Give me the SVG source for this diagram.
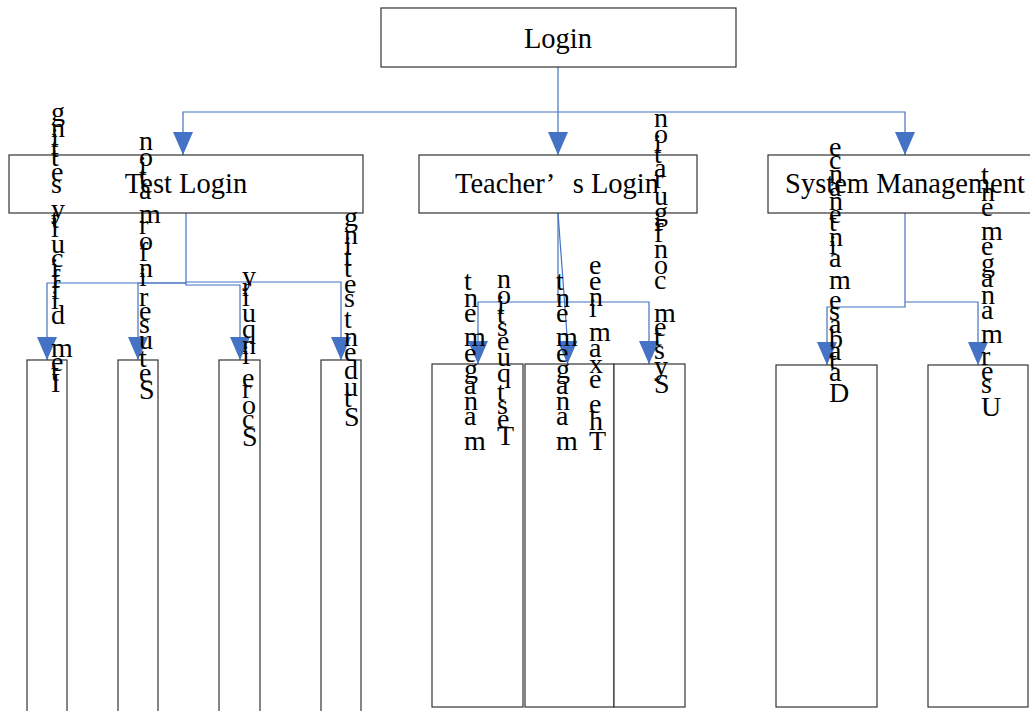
<svg xmlns="http://www.w3.org/2000/svg" width="1030" height="711" viewBox="0 0 1030 711">
  <style>
    .box { fill: #ffffff; stroke: #333333; stroke-width: 1.2; }
    .lbl { font-family: "Liberation Serif", "Times New Roman", serif; font-size: 28.5px; fill: #000000; }
    .vl { font-family: "Liberation Serif", "Times New Roman", serif; font-size: 28px; fill: #000000; letter-spacing: 2px; }
    .wire { fill: none; stroke: #4472C4; stroke-width: 1.2; marker-end: url(#arrow); }
  </style>
  <defs>
    <marker id="arrow" viewBox="0 0 23 20" refX="23" refY="10" markerWidth="23" markerHeight="20" markerUnits="userSpaceOnUse" orient="auto">
      <path d="M0,0 L23,10 L0,20 Z" fill="#4472C4"/>
    </marker>
  </defs>

  <rect width="1030" height="711" fill="#ffffff"/>

  <!-- connectors -->
  <g id="connectors">
    <path class="wire" d="M558,67 L558,155"/>
    <path class="wire" d="M558,112 L183,112 L183,155"/>
    <path class="wire" d="M558,112 L905,112 L905,155"/>

    <path class="wire" d="M186,213 L186,283 L47,283 L47,360"/>
    <path class="wire" d="M186,283 L138,283 L138,360"/>
    <path class="wire" d="M186,283 L186,285 L240,285 L240,360"/>
    <path class="wire" d="M186,282 L341,282 L341,360"/>

    <path class="wire" d="M558,213 L558,302 L478,302 L478,364"/>
    <path class="wire" d="M558,302 L649,302 L649,364"/>
    <path class="wire" d="M558,213 L567.5,342 L567.5,364"/>

    <path class="wire" d="M905,213 L905,307 L827,307 L827,365"/>
    <path class="wire" d="M905,302 L978,302 L978,365"/>
  </g>

  <!-- top level -->
  <g id="n-login">
    <rect class="box" x="381" y="8" width="355" height="59"/>
    <text class="lbl" x="558" y="48" text-anchor="middle">Login</text>
  </g>

  <!-- second level -->
  <g id="n-test">
    <rect class="box" x="9" y="155" width="354" height="58"/>
    <text class="lbl" x="186" y="193" text-anchor="middle">Test Login</text>
  </g>
  <g id="n-teacher">
    <rect class="box" x="419" y="155" width="278" height="58"/>
    <text class="lbl" x="455" y="193">Teacher’<tspan dx="19">s Login</tspan></text>
  </g>
  <g id="n-system">
    <rect class="box" x="768" y="155" width="274" height="58"/>
    <text class="lbl" x="905" y="193" text-anchor="middle">System Management</text>
  </g>

  <!-- Test Login children -->
  <g id="n-item">
    <rect class="box" x="27" y="360" width="40" height="360"/>
    <text class="vl" style="letter-spacing:1.85px" transform="translate(51,392) rotate(-90)" rotate="90">Item difficulty setting</text>
  </g>
  <g id="n-setuser">
    <rect class="box" x="118" y="360" width="40" height="360"/>
    <text class="vl" style="letter-spacing:1.8px" transform="translate(139,399) rotate(-90)" rotate="90">Set user information</text>
  </g>
  <g id="n-score">
    <rect class="box" x="219" y="360" width="41" height="360"/>
    <text class="vl" style="letter-spacing:1.95px" transform="translate(242,446) rotate(-90)" rotate="90">Score inquiry</text>
  </g>
  <g id="n-student">
    <rect class="box" x="321" y="360" width="40" height="360"/>
    <text class="vl" style="letter-spacing:3.3px" transform="translate(344,426) rotate(-90)" rotate="90">Student setting</text>
  </g>

  <!-- Teacher's Login children -->
  <g id="n-question">
    <rect class="box" x="432" y="364" width="91" height="343"/>
    <text class="vl" style="letter-spacing:1.9px" transform="translate(497,445) rotate(-90)" rotate="90">Test question</text>
    <text class="vl" style="letter-spacing:2.75px" transform="translate(464,450) rotate(-90)" rotate="90">management</text>
  </g>
  <g id="n-examinee">
    <rect class="box" x="525" y="364" width="89" height="343"/>
    <text class="vl" style="letter-spacing:2.75px" transform="translate(589,450) rotate(-90)" rotate="90">The examinee</text>
    <text class="vl" style="letter-spacing:2.75px" transform="translate(556,450) rotate(-90)" rotate="90">management</text>
  </g>
  <g id="n-config">
    <rect class="box" x="614" y="364" width="71" height="343"/>
    <text class="vl" style="letter-spacing:2.1px" transform="translate(654,393) rotate(-90)" rotate="90">System configuration</text>
  </g>

  <!-- System Management children -->
  <g id="n-database">
    <rect class="box" x="776" y="365" width="101" height="342"/>
    <text class="vl" style="letter-spacing:0.4px" transform="translate(829,402) rotate(-90)" rotate="90">Database maintenance</text>
  </g>
  <g id="n-user">
    <rect class="box" x="928" y="365" width="100" height="342"/>
    <text class="vl" style="letter-spacing:2.6px" transform="translate(981,416) rotate(-90)" rotate="90">User management</text>
  </g>
</svg>
